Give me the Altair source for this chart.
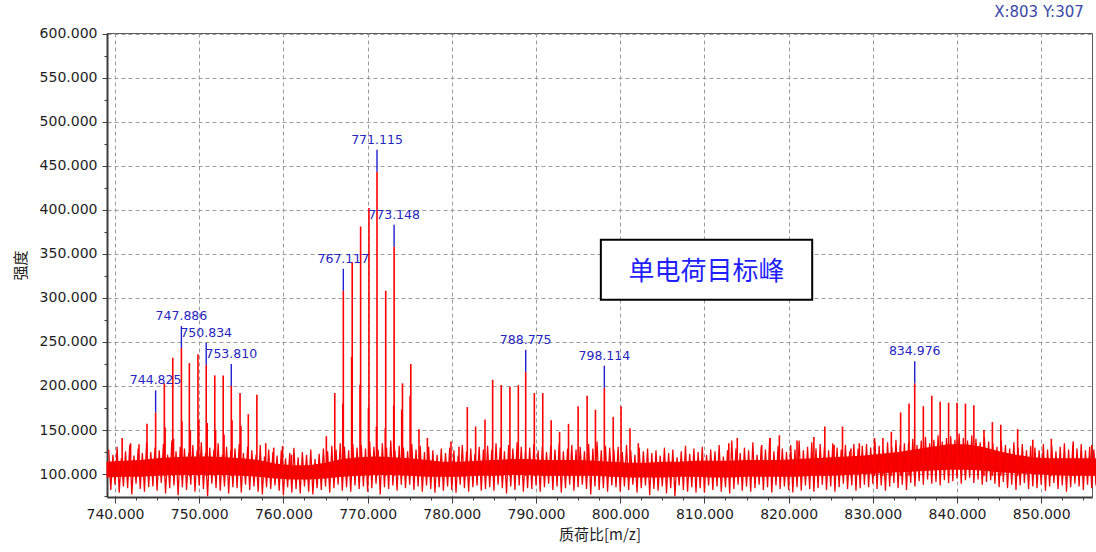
import altair as alt
import pandas as pd

X_DOMAIN = [739.05, 856.03]
Y_DOMAIN = [74, 600.6]

RED = "#ff0000"
LABEL_BLUE = "#2626c0"
AXIS_DARK = "#3c3c3c"
TEXT_DARK = "#1e1e1e"

# Dense core of the baseline noise: lower / upper envelope every 2 m/z
band_mz = list(range(739, 858, 2))
band_lo = [96, 97, 97, 98, 99, 99, 99, 99, 98, 97,
           95, 94, 94, 95, 97, 98, 99, 99, 98, 97,
           97, 97, 98, 98, 99, 99, 98, 98, 98, 98,
           97, 96, 96, 96, 97, 97, 96, 96, 97, 97,
           97, 97, 98, 98, 99, 100, 101, 102, 103, 104,
           105, 105, 104, 102, 101, 100, 99, 98, 98, 98]
band_hi = [114, 115, 116, 118, 119, 120, 120, 119, 118, 116,
           112, 110, 110, 113, 117, 119, 120, 119, 118, 116,
           114, 114, 115, 116, 117, 117, 116, 116, 116, 115,
           114, 113, 113, 114, 114, 115, 115, 115, 116, 116,
           116, 117, 118, 119, 120, 121, 123, 125, 128, 131,
           134, 134, 131, 126, 122, 119, 118, 118, 118, 118]

# Noise trace: a high and a low sample every 0.5 m/z from 739.25
noise_start, noise_step = 739.25, 0.5
noise_hi = [128, 122, 131, 118, 126, 133, 121, 129, 124, 136,
            125, 130, 127, 134, 122, 138, 126, 131, 129, 124,
            133, 127, 136, 124, 130, 128, 135, 122, 131, 127,
            129, 134, 124, 131, 127, 122, 133, 120, 128, 125,
            121, 127, 118, 124, 130, 119, 125, 122, 128, 117,
            123, 129, 126, 132, 128, 135, 131, 127, 134, 130,
            133, 129, 137, 131, 128, 135, 130, 138, 127, 132,
            130, 126, 134, 128, 132, 125, 131, 127, 122, 129,
            124, 130, 127, 121, 133, 126, 129, 123, 131, 128,
            132, 128, 135, 130, 126, 133, 129, 136, 131, 127,
            130, 134, 127, 131, 125, 132, 128, 135, 126, 129,
            133, 128, 131, 126, 134, 129, 137, 127, 132, 130,
            128, 131, 125, 133, 127, 122, 130, 126, 129, 124,
            127, 121, 130, 124, 128, 119, 126, 132, 123, 129,
            125, 131, 122, 128, 126, 133, 120, 127, 138, 129,
            124, 130, 127, 136, 122, 131, 128, 141, 126, 132,
            129, 125, 133, 128, 138, 127, 131, 136, 129, 134,
            131, 127, 135, 130, 128, 133, 126, 134, 129, 132,
            134, 130, 137, 132, 128, 136, 131, 139, 133, 135,
            136, 140, 133, 138, 142, 135, 139, 144, 137, 141,
            143, 139, 146, 141, 138, 144, 140, 136, 142, 137,
            135, 131, 138, 133, 129, 136, 130, 134, 127, 132,
            130, 127, 134, 128, 132, 126, 131, 135, 128, 133,
            129, 134, 127, 131, 128]
noise_lo = [82, 88, 79, 86, 84, 77, 89, 83, 80, 85,
            86, 81, 90, 78, 84, 87, 76, 85, 82, 88,
            80, 87, 83, 75, 89, 84, 81, 86, 78, 85,
            84, 79, 88, 82, 86, 80, 77, 85, 83, 87,
            81, 76, 85, 79, 83, 78, 86, 80, 77, 84,
            82, 86, 79, 84, 88, 81, 85, 80, 87, 83,
            86, 80, 84, 89, 77, 85, 83, 87, 81, 88,
            84, 88, 82, 86, 80, 87, 83, 79, 85, 81,
            86, 82, 79, 88, 84, 80, 85, 87, 81, 83,
            85, 81, 88, 84, 78, 86, 82, 87, 80, 84,
            83, 87, 80, 85, 89, 82, 86, 79, 84, 88,
            81, 85, 88, 83, 77, 86, 82, 84, 80, 87,
            85, 80, 86, 82, 88, 79, 84, 87, 76, 83,
            81, 86, 78, 84, 75, 87, 82, 80, 85, 79,
            84, 79, 87, 82, 86, 80, 85, 78, 83, 88,
            81, 86, 80, 84, 88, 82, 85, 79, 87, 83,
            86, 82, 79, 85, 81, 87, 83, 80, 84, 88,
            82, 86, 80, 85, 89, 83, 87, 81, 84, 88,
            85, 89, 83, 87, 81, 86, 90, 84, 88, 82,
            90, 86, 92, 88, 94, 89, 91, 87, 93, 90,
            92, 95, 89, 93, 96, 90, 94, 88, 91, 93,
            89, 85, 91, 84, 88, 82, 87, 90, 83, 86,
            84, 88, 81, 86, 90, 83, 87, 80, 85, 89,
            86, 82, 88, 84, 87]

# Isotope peaks (m/z, intensity) without annotation
peak_mz = [740.85, 741.85, 742.85, 743.8, 745.86, 746.86, 748.83, 749.85,
           751.85, 752.85, 754.85, 755.83, 756.85, 757.9, 758.85, 759.9, 760.95,
           745.95, 746.95, 747.95, 748.95, 749.95, 750.95, 751.95, 752.95,
           753.9, 754.95,
           765.1, 766.1, 768.17, 769.17, 770.16, 772.15, 774.14, 775.13,
           776.1, 777.1,
           767.05, 768.1, 769.1, 770.1, 771.05, 772.1, 773.1, 774.05, 775.05,
           779.9, 780.85, 781.84, 782.83, 783.94, 784.85, 785.87, 786.9,
           787.9, 789.8, 790.8, 791.8, 792.8, 793.86, 795.0, 796.07, 797.06,
           799.17, 800.1, 801.16, 802.15,
           812.9, 813.9, 816.8, 817.8, 818.9, 821.0, 823.0,
           824.3, 825.4, 826.4, 827.4, 828.4, 830.2, 831.2, 832.2, 833.3,
           834.3, 836.0, 837.0, 838.0, 839.0, 840.0, 841.0, 842.0, 843.2,
           844.2, 845.2, 847.2, 849.0, 851.2, 853.8, 856.0]
peak_int = [141, 135, 134, 157, 203, 232, 226, 236,
            212, 212, 192, 168, 190, 135, 130, 132, 122,
            153, 140, 160, 150, 161, 158, 150, 145,
            161, 155,
            143, 192, 340, 381, 402, 308, 203, 225,
            151, 141,
            180, 233, 201, 175, 154, 152, 178, 173, 189,
            137, 131, 176, 154, 162, 207, 201, 199,
            201, 192, 192, 161, 148, 157, 177, 189, 173,
            165, 177, 152, 135,
            135, 141, 133, 141, 144, 138, 142,
            154, 133, 154, 129, 135, 141, 141, 148, 170,
            180, 177, 189, 182, 181, 181, 180, 178, 150,
            159, 156, 151, 139, 140, 137, 133]

# Annotated peaks
label_mz = [744.825, 747.886, 750.834, 753.810, 767.117, 771.115,
            773.148, 788.775, 798.114, 834.976]
label_int = [170, 243, 224, 200, 308, 443, 358, 216, 198, 203]
LEADER = 25  # length of the blue leader above each annotated peak

x_major = [740, 750, 760, 770, 780, 790, 800, 810, 820, 830, 840, 850]
y_major = [100, 150, 200, 250, 300, 350, 400, 450, 500, 550, 600]
x_minor = [742.5, 745, 747.5, 752.5, 755, 757.5, 762.5, 765, 767.5,
           772.5, 775, 777.5, 782.5, 785, 787.5, 792.5, 795, 797.5,
           802.5, 805, 807.5, 812.5, 815, 817.5, 822.5, 825, 827.5,
           832.5, 835, 837.5, 842.5, 845, 847.5, 852.5, 855]
y_minor = [75, 125, 175, 225, 275, 325, 375, 425, 475, 525, 575]

band_df = pd.DataFrame({"mz": band_mz, "lo": band_lo, "hi": band_hi})

# interleave high and low samples into one continuous trace
trace_mz, trace_v = [], []
for i, (h, l) in enumerate(zip(noise_hi, noise_lo)):
    x0 = noise_start + noise_step * i
    trace_mz += [x0, x0 + noise_step / 2]
    trace_v += [h, l]
trace_df = pd.DataFrame({"mz": trace_mz, "v": trace_v})

peak_df = pd.DataFrame({"mz": peak_mz, "int": peak_int})
label_df = pd.DataFrame({"mz": label_mz, "int": label_int})
label_df["top"] = label_df["int"] + LEADER

xs = alt.Scale(domain=X_DOMAIN, nice=False, zero=False)
ys = alt.Scale(domain=Y_DOMAIN, nice=False, zero=False)

x_axis = alt.Axis(values=x_major, format=".3f", orient="bottom",
                  title="质荷比[m/z]", grid=True, gridColor="#9c9c9c",
                  gridDash=[4, 3], gridWidth=1, domainColor=AXIS_DARK,
                  domainWidth=2, tickColor=AXIS_DARK, tickSize=6,
                  labelFont="DejaVu Sans", labelFontSize=14,
                  labelColor=TEXT_DARK, labelPadding=4, labelFlush=False,
                  titleFont="Noto Sans CJK SC", titleFontSize=15,
                  titleFontWeight="normal", titleColor=TEXT_DARK,
                  titlePadding=6)
y_axis = alt.Axis(values=y_major, format=".3f", orient="left",
                  title="强度", grid=True, gridColor="#9c9c9c",
                  gridDash=[4, 3], gridWidth=1, domainColor=AXIS_DARK,
                  domainWidth=2, tickColor=AXIS_DARK, tickSize=5,
                  labelFont="DejaVu Sans", labelFontSize=14,
                  labelColor=TEXT_DARK, labelPadding=5, labelFlush=False,
                  titleFont="Noto Sans CJK SC", titleFontSize=15,
                  titleFontWeight="normal", titleColor=TEXT_DARK,
                  titlePadding=11)

band = alt.Chart(band_df).mark_area(color=RED, opacity=1).encode(
    x=alt.X("mz:Q", scale=xs, axis=x_axis),
    y=alt.Y("lo:Q", scale=ys, axis=y_axis),
    y2="hi:Q",
)

minor = alt.Chart(band_df).mark_point(opacity=0).encode(
    x=alt.X("mz:Q", scale=xs,
            axis=alt.Axis(values=x_minor, orient="bottom", labels=False,
                          domain=False, grid=False, tickSize=3,
                          tickColor=AXIS_DARK, title=None)),
    y=alt.Y("hi:Q", scale=ys,
            axis=alt.Axis(values=y_minor, orient="left", labels=False,
                          domain=False, grid=False, tickSize=3,
                          tickColor=AXIS_DARK, title=None)),
)

trace = alt.Chart(trace_df).mark_line(color="#f00000", strokeWidth=1.25).encode(
    x=alt.X("mz:Q", scale=xs, axis=None),
    y=alt.Y("v:Q", scale=ys, axis=None),
    order="mz:Q",
)

peaks = alt.Chart(peak_df).mark_rule(color=RED, strokeWidth=1.6).encode(
    x=alt.X("mz:Q", scale=xs, axis=None),
    y=alt.Y("int:Q", scale=ys, axis=None),
    y2=alt.datum(98),
)

label_peaks = alt.Chart(label_df).mark_rule(color=RED, strokeWidth=1.6).encode(
    x=alt.X("mz:Q", scale=xs, axis=None),
    y=alt.Y("int:Q", scale=ys, axis=None),
    y2=alt.datum(98),
)

leaders = alt.Chart(label_df).mark_rule(color="#2020d0", strokeWidth=1.4).encode(
    x=alt.X("mz:Q", scale=xs, axis=None),
    y=alt.Y("int:Q", scale=ys, axis=None),
    y2="top:Q",
)

labels = alt.Chart(label_df).mark_text(
    font="DejaVu Sans", fontSize=12.5, color=LABEL_BLUE,
    align="center", baseline="alphabetic", dy=-6,
).encode(
    x=alt.X("mz:Q", scale=xs, axis=None),
    y=alt.Y("top:Q", scale=ys, axis=None),
    text=alt.Text("mz:Q", format=".3f"),
)

box_df = pd.DataFrame({"x": [797.7], "x2": [822.8], "y": [366], "y2": [298]})
box = alt.Chart(box_df).mark_rect(fill="white", stroke="black", strokeWidth=2).encode(
    x=alt.X("x:Q", scale=xs, axis=None), x2="x2:Q",
    y=alt.Y("y:Q", scale=ys, axis=None), y2="y2:Q",
)

box_text = alt.Chart(pd.DataFrame({"mz": [810.25], "v": [329], "t": ["单电荷目标峰"]})).mark_text(
    font="Noto Sans CJK SC", fontSize=26, color="#1f1fff",
    align="center", baseline="middle",
).encode(
    x=alt.X("mz:Q", scale=xs, axis=None),
    y=alt.Y("v:Q", scale=ys, axis=None),
    text="t:N",
)

cursor = alt.Chart(pd.DataFrame({"t": ["X:803 Y:307"]})).mark_text(
    font="DejaVu Sans", fontSize=15, color="#3a48a8",
    align="center", baseline="middle",
).encode(x=alt.value(932), y=alt.value(-21), text="t:N")

chart = alt.layer(
    band, minor, trace, peaks, label_peaks, leaders, labels, box, box_text, cursor
).resolve_axis(
    x="independent", y="independent"
).properties(
    width=985, height=464,
    padding={"left": 107, "top": 33, "right": 4, "bottom": 55},
    autosize=alt.AutoSizeParams(type="none"),
    background="white",
).configure_view(stroke="#5a5a5a", strokeWidth=1)

chart.save("out.html", embed_options={"renderer": "svg", "actions": False})
